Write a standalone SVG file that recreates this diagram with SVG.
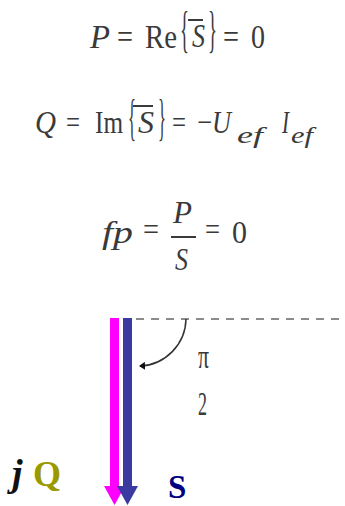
<svg xmlns="http://www.w3.org/2000/svg" width="345" height="506" viewBox="0 0 345 506">
<style>
.eq{font-family:"Liberation Serif","Times New Roman",serif;font-size:34px;fill:#3a3a3a}
.l2{font-size:32px}
.it{font-style:italic}
.br{font-size:50px}
.sub{font-size:24px;font-style:italic}
.bar{stroke:#3a3a3a;stroke-width:2}
.lbl{font-family:"Liberation Serif","Times New Roman",serif;font-weight:bold}
</style>
<defs>
<marker id="ah" markerWidth="8" markerHeight="8" refX="5" refY="4" orient="auto" markerUnits="userSpaceOnUse">
<path d="M0,0 L6,4 L0,8 Z" fill="#111"/>
</marker>
</defs>
<rect width="345" height="506" fill="#fff"/>
<g id="eq-p">
<text class="eq it" x="90" y="48" textLength="20" lengthAdjust="spacingAndGlyphs">P</text>
<text class="eq" x="117" y="48" textLength="16" lengthAdjust="spacingAndGlyphs">=</text>
<text class="eq" x="145" y="48" textLength="32" lengthAdjust="spacingAndGlyphs">Re</text>
<text class="eq br" x="180" y="46" textLength="9" lengthAdjust="spacingAndGlyphs">{</text>
<text class="eq it" x="192" y="47" textLength="13" lengthAdjust="spacingAndGlyphs">S</text>
<line class="bar" x1="188" y1="20" x2="203" y2="20"/>
<text class="eq br" x="208" y="46" textLength="9" lengthAdjust="spacingAndGlyphs">}</text>
<text class="eq" x="223" y="48" textLength="16" lengthAdjust="spacingAndGlyphs">=</text>
<text class="eq" x="251" y="48" textLength="14" lengthAdjust="spacingAndGlyphs">0</text>
</g>
<g id="eq-q">
<text class="eq l2 it" x="35" y="133" textLength="21" lengthAdjust="spacingAndGlyphs">Q</text>
<text class="eq l2" x="66" y="133" textLength="14" lengthAdjust="spacingAndGlyphs">=</text>
<text class="eq l2" x="95" y="133" textLength="28" lengthAdjust="spacingAndGlyphs">Im</text>
<text class="eq br" x="128" y="134" textLength="8" lengthAdjust="spacingAndGlyphs">{</text>
<text class="eq l2 it" x="138" y="133" textLength="16" lengthAdjust="spacingAndGlyphs">S</text>
<line class="bar" x1="133" y1="106" x2="153" y2="106"/>
<text class="eq br" x="158" y="134" textLength="8" lengthAdjust="spacingAndGlyphs">}</text>
<text class="eq l2" x="172" y="133" textLength="14" lengthAdjust="spacingAndGlyphs">=</text>
<text class="eq l2" x="197" y="133" textLength="15" lengthAdjust="spacingAndGlyphs">−</text>
<text class="eq l2 it" x="212" y="133" textLength="19" lengthAdjust="spacingAndGlyphs">U</text>
<text class="eq sub" x="237" y="143" textLength="26" lengthAdjust="spacingAndGlyphs">ef</text>
<text class="eq l2 it" x="282" y="133" textLength="7" lengthAdjust="spacingAndGlyphs">I</text>
<text class="eq sub" x="291" y="143" textLength="22" lengthAdjust="spacingAndGlyphs">ef</text>
</g>
<g id="eq-fp">
<text class="eq l2 it" x="102" y="243" textLength="31" lengthAdjust="spacingAndGlyphs">fp</text>
<text class="eq l2" x="143" y="240" textLength="16" lengthAdjust="spacingAndGlyphs">=</text>
<text class="eq l2 it" x="173" y="223" textLength="19" lengthAdjust="spacingAndGlyphs">P</text>
<line class="bar" x1="171" y1="237" x2="196" y2="237"/>
<text class="eq l2 it" x="175" y="270" textLength="13" lengthAdjust="spacingAndGlyphs">S</text>
<text class="eq l2" x="205" y="240" textLength="15" lengthAdjust="spacingAndGlyphs">=</text>
<text class="eq l2" x="232" y="243" textLength="15" lengthAdjust="spacingAndGlyphs">0</text>
</g>
<g id="connectors">
<line x1="136" y1="319" x2="345" y2="319" stroke="#666" stroke-width="1.5" stroke-dasharray="8,7"/>
<path d="M186,319 A48,48 0 0 1 140,366" fill="none" stroke="#333" stroke-width="1.5" marker-end="url(#ah)"/>
<line x1="114.5" y1="318" x2="114.5" y2="490" stroke="#f0f" stroke-width="9"/>
<polygon points="104,486 125,486 114.5,505" fill="#f0f"/>
<line x1="127.5" y1="318" x2="127.5" y2="490" stroke="#3a3aa0" stroke-width="9"/>
<polygon points="117,486 138,486 127.5,505" fill="#3a3aa0"/>
</g>
<g id="angle-label">
<text class="eq" x="198" y="368" font-size="26" textLength="11" lengthAdjust="spacingAndGlyphs">π</text>
<text class="eq" x="198" y="415" font-size="32" textLength="9" lengthAdjust="spacingAndGlyphs">2</text>
</g>
<g id="label-jq">
<text class="lbl" x="12" y="486" font-size="38" font-style="italic" fill="#111">j</text>
<text class="lbl" x="33" y="486" font-size="36" fill="#999900">Q</text>
</g>
<g id="label-s">
<text class="lbl" x="168" y="498" font-size="33" fill="#000080">S</text>
</g>
</svg>
